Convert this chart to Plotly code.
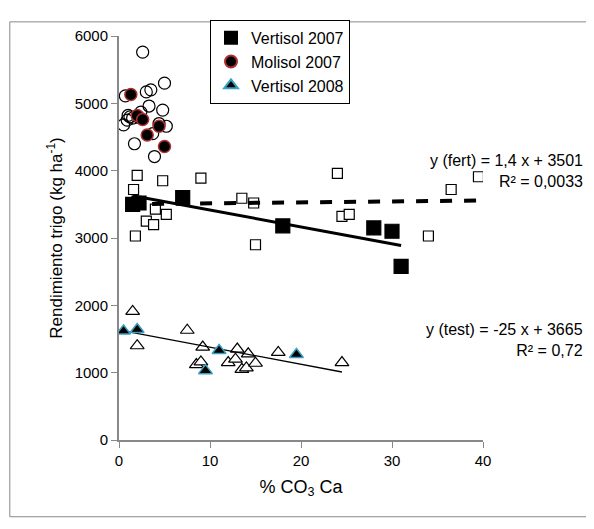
import plotly.graph_objects as go

v07_x = [1.5, 2.2, 7, 18, 28, 30, 31]
v07_y = [3500, 3520, 3600, 3180, 3150, 3100, 2580]
v07f_x = [1.6, 1.8, 2.0, 3.0, 4.0, 5.2, 4.8, 9.0, 13.5, 14.8, 15.0, 24.0, 24.5, 25.3, 34.0, 36.5, 39.5, 3.8]
v07f_y = [3720, 3030, 3930, 3250, 3430, 3350, 3850, 3890, 3590, 3520, 2900, 3960, 3320, 3350, 3030, 3720, 3910, 3200]
mol_x = [1.3, 2.0, 2.6, 3.1, 4.4, 5.0]
mol_y = [5130, 4820, 4760, 4530, 4660, 4360]
molf_x = [0.5, 0.7, 1.0, 1.5, 1.7, 2.2, 2.6, 3.0, 3.5, 3.3, 3.9, 4.4, 4.8, 5.0, 5.2, 1.2, 2.4, 3.7, 0.9]
molf_y = [4680, 5110, 4820, 4780, 4400, 4790, 5760, 5170, 5200, 4960, 4210, 4700, 4900, 5300, 4660, 4800, 4870, 4550, 4750]
v08_x = [0.5, 2.0, 9.5, 11.0, 19.5]
v08_y = [1620, 1640, 1030, 1330, 1270]
v08f_x = [1.5, 2.0, 7.5, 9.2, 8.5, 9.0, 12.0, 13.0, 13.5, 14.0, 14.2, 15.0, 17.5, 24.5, 12.8]
v08f_y = [1910, 1400, 1630, 1380, 1120, 1160, 1150, 1350, 1050, 1070, 1280, 1140, 1300, 1150, 1200]
fert_x = [1.0, 39.5]
test_x = [1.5, 31.0]
t08_x = [0.5, 24.5]
t08_y = [1620, 1010]

font = "Liberation Sans"
fig = go.Figure()
def sc(x, y, sym, size, fill, line_c, name=None, lw=1.2):
    fig.add_trace(go.Scatter(x=x, y=y, mode="markers", name=name, showlegend=name is not None,
        marker=dict(symbol=sym, size=size, color=fill, line=dict(color=line_c, width=lw))))
sc(molf_x, molf_y, "circle", 12, "rgba(255,255,255,0)", "black")
sc(v07f_x, v07f_y, "square", 10, "white", "black")
sc(v08f_x, v08f_y, "triangle-up", 12, "white", "black")
fig.add_trace(go.Scatter(x=fert_x, y=[1.4*x+3501 for x in fert_x], mode="lines", showlegend=False,
    line=dict(color="black", width=4, dash="dash")))
fig.add_trace(go.Scatter(x=test_x, y=[-25*x+3665 for x in test_x], mode="lines", showlegend=False,
    line=dict(color="black", width=3)))
fig.add_trace(go.Scatter(x=t08_x, y=t08_y, mode="lines", showlegend=False, line=dict(color="black", width=1.3)))
sc(v07_x, v07_y, "square", 14, "black", "black", "Vertisol 2007")
sc(mol_x, mol_y, "circle", 12, "black", "#b03030", "Molisol 2007", 1.5)
sc(v08_x, v08_y, "triangle-up", 12, "black", "#3a9fc0", "Vertisol 2008", 1.5)

fig.update_layout(
    width=578, height=513, paper_bgcolor="white", plot_bgcolor="white",
    margin=dict(l=111, r=103, t=17, b=81),
    font=dict(family=font, size=15, color="black"),
    xaxis=dict(range=[0, 40], dtick=10, showgrid=False, zeroline=False, showline=True,
               linecolor="#888", linewidth=2, ticks="outside", tickcolor="#888", ticklen=6,
               title=dict(text="% CO<sub>3</sub> Ca", font=dict(size=18), standoff=12)),
    yaxis=dict(range=[0, 6000], dtick=1000, showgrid=False, zeroline=False, showline=True,
               linecolor="#888", linewidth=2, ticks="outside", tickcolor="#888", ticklen=6,
               title=dict(text="Rendimiento trigo (kg ha<sup>-1</sup>)", font=dict(size=17), standoff=8)),
    legend=dict(x=0.25, y=1.04, xanchor="left", yanchor="top", bordercolor="black", borderwidth=1,
                bgcolor="white", font=dict(size=16), itemsizing="constant"),
    shapes=[dict(type="rect", xref="paper", yref="paper", x0=-0.3, x1=1.285, y0=-0.19, y1=1.035,
                 line=dict(color="#888", width=1))],
    annotations=[
        dict(x=1.28, y=3990, xref="paper", yref="y", xanchor="right", showarrow=False,
             text="y (fert) = 1,4 x + 3501<br>R² = 0,0033", align="right", font=dict(size=16)),
        dict(x=1.28, y=1480, xref="paper", yref="y", xanchor="right", showarrow=False,
             text="y (test) = -25 x + 3665<br>R² = 0,72", align="right", font=dict(size=16)),
    ],
)
fig.write_html("out.html")
